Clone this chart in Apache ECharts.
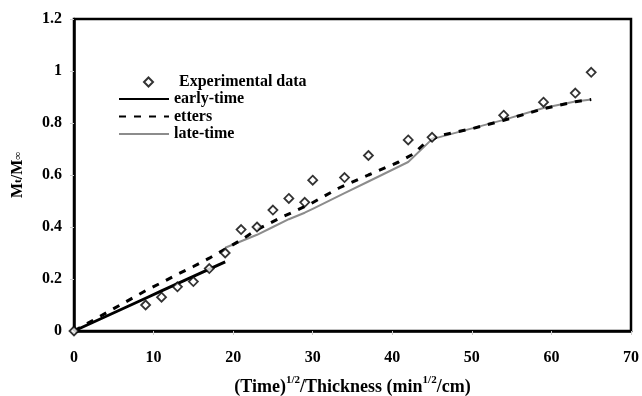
<!DOCTYPE html>
<html>
<head>
<meta charset="utf-8">
<script src="https://cdn.jsdelivr.net/npm/echarts@6/dist/echarts.min.js"></script>
<style>
  html, body { margin: 0; padding: 0; background: #fff; }
  #chart { width: 642px; height: 396px; }
</style>
</head>
<body>
<div id="chart"></div>
<script>
// measured points (x = time^1/2 / thickness)
var expX = [0, 9, 11, 13, 15, 17, 19, 21, 23, 25, 27, 29, 30, 34, 37, 42, 45, 54, 59, 63, 65];
var expY = [0, 0.10, 0.13, 0.17, 0.19, 0.24, 0.30, 0.39, 0.40, 0.465, 0.51, 0.495, 0.58, 0.59, 0.675, 0.735, 0.745, 0.83, 0.88, 0.915, 0.995];

var earlyX = [0, 9, 11, 13, 15, 17, 19];
var earlyY = [0, 0.126, 0.154, 0.182, 0.21, 0.238, 0.266];

var ettersX = [0, 9, 11, 13, 15, 17, 19, 21, 23, 26, 29.6, 33.3, 37, 40.8, 42.6, 44.2, 46, 50, 54, 59, 63, 65];
var ettersY = [0, 0.155, 0.186, 0.218, 0.248, 0.28, 0.315, 0.35, 0.39, 0.436, 0.487, 0.55, 0.6, 0.65, 0.68, 0.725, 0.752, 0.778, 0.81, 0.855, 0.882, 0.89];

var lateX = [19, 21, 23, 25, 27, 29, 30, 34, 37, 42, 45, 54, 59, 63, 65];
var lateY = [0.32, 0.345, 0.37, 0.40, 0.43, 0.455, 0.47, 0.53, 0.575, 0.65, 0.738, 0.812, 0.858, 0.883, 0.89];

var xTicks = [0, 10, 20, 30, 40, 50, 60, 70];
var yTicks = [0, 0.2, 0.4, 0.6, 0.8, 1, 1.2];

function zip(xs, ys) {
  return xs.map(function (x, i) { return [x, ys[i]]; });
}

var font = 'Liberation Serif';
var legendText = { fontFamily: font, fontWeight: 'bold', fontSize: 16, lineHeight: 16, color: '#000' };

var chart = echarts.init(document.getElementById('chart'));
chart.setOption({
  animation: false,
  textStyle: { fontFamily: font },
  grid: {
    left: 74, right: 11, top: 19, bottom: 65,
    outerBoundsMode: 'none',
    show: true, borderColor: '#000', borderWidth: 2.5
  },
  legend: [
    {
      // diamond entry
      left: 143, top: 74, padding: 0,
      itemWidth: 9, itemHeight: 9,
      textStyle: Object.assign({ padding: [0, 0, 0, 21] }, legendText),
      data: ['Experimental data']
    },
    {
      orient: 'vertical',
      left: 118, top: 91, padding: 0,
      itemWidth: 50, itemHeight: 10, itemGap: 1.5,
      itemStyle: { opacity: 0 },
      textStyle: legendText,
      data: ['early-time', 'etters', 'late-time']
    }
  ],
  xAxis: {
    type: 'value',
    min: 0, max: 70, interval: 10,
    name: '(Time){sup|1/2}/Thickness (min{sup|1/2}/cm)',
    nameLocation: 'middle', nameGap: 44,
    nameTextStyle: {
      fontFamily: font, fontWeight: 'bold', fontSize: 18, color: '#000',
      rich: { sup: { fontFamily: font, fontWeight: 'bold', fontSize: 11, color: '#000', verticalAlign: 'top', padding: [0, 0, 13, 0] } }
    },
    axisLine: { lineStyle: { color: '#000', width: 2.5 } },
    axisTick: { show: true, length: 4, lineStyle: { color: '#ccc' } },
    axisLabel: {
      margin: 19, color: '#000', fontFamily: font, fontWeight: 'bold', fontSize: 16,
      customValues: xTicks
    },
    splitLine: { show: false }
  },
  yAxis: {
    type: 'value',
    min: 0, max: 1.2, interval: 0.2,
    name: 'M{sub|t}/M{sub|∞}',
    nameLocation: 'middle', nameGap: 48, nameRotate: 90,
    nameTextStyle: {
      fontFamily: font, fontWeight: 'bold', fontSize: 16, color: '#000',
      rich: { sub: { fontFamily: font, fontWeight: 'bold', fontSize: 11, color: '#000' } }
    },
    axisLine: { show: true, lineStyle: { color: '#000', width: 2.5 } },
    axisTick: { show: true, length: 4, lineStyle: { color: '#ccc' } },
    axisLabel: {
      margin: 12, color: '#000', fontFamily: font, fontWeight: 'bold', fontSize: 16,
      customValues: yTicks,
      formatter: function (v) { return String(Math.round(v * 10) / 10); }
    },
    splitLine: { show: false }
  },
  series: [
    {
      name: 'late-time',
      type: 'line',
      data: zip(lateX, lateY),
      symbol: 'none',
      z: 2,
      lineStyle: { color: '#8c8c8c', width: 2 },
      itemStyle: { color: '#8c8c8c' }
    },
    {
      name: 'etters',
      type: 'line',
      data: zip(ettersX, ettersY),
      symbol: 'none',
      z: 3,
      lineStyle: { color: '#000', width: 3, type: [7, 8] },
      itemStyle: { color: '#000' }
    },
    {
      name: 'early-time',
      type: 'line',
      data: zip(earlyX, earlyY),
      symbol: 'none',
      z: 4,
      lineStyle: { color: '#000', width: 3 },
      itemStyle: { color: '#000' }
    },
    {
      name: 'Experimental data',
      type: 'scatter',
      data: zip(expX, expY),
      symbol: 'diamond',
      symbolSize: 9,
      z: 5,
      itemStyle: { color: '#fff', borderColor: '#000', borderWidth: 1.8 }
    }
  ]
});
</script>
</body>
</html>
